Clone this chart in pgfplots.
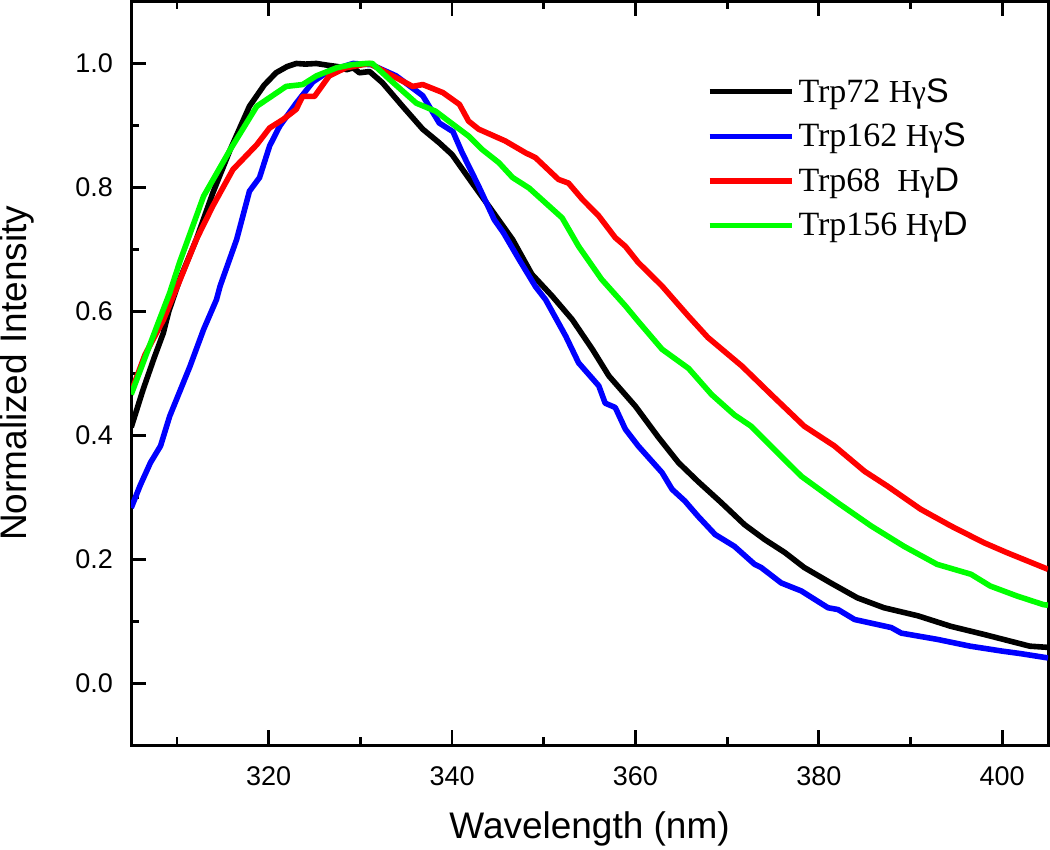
\documentclass[border=0pt]{standalone}
\usepackage{pgfplots}
\pgfplotsset{compat=1.18}
\usepackage{fontspec}
\setmainfont{Liberation Sans}
\newfontfamily\tnr{Liberation Serif}
\newfontfamily\arial{Liberation Sans}

\begin{document}
\begin{tikzpicture}
\begin{axis}[
  scale only axis, width=458.5pt, height=372pt,
  xmin=305, xmax=405, ymin=-0.1, ymax=1.1,
  xtick={320,340,...,400}, minor xtick={310,330,...,400},
  ytick={0,0.2,0.4,0.6,0.8,1.0}, minor ytick={0.1,0.3,0.5,0.7,0.9},
  tick align=inside, xtick pos=both, ytick pos=left,
  xticklabel pos=lower,
  major tick length=7.5pt, minor tick length=4pt,
  tick style={black, line width=1.4pt},
  axis line style={line width=1.5pt},
  /pgf/number format/assume math mode=true,
  yticklabel style={/pgf/number format/fixed, /pgf/number format/fixed zerofill, /pgf/number format/precision=1,
    inner sep=0pt, anchor=east, xshift=-9pt},
  xticklabel style={/pgf/number format/1000 sep={}, inner sep=0pt, anchor=north, yshift=-10.3pt},
  tick label style={font=\fontsize{13.5}{15}\selectfont},
  xlabel={Wavelength (nm)}, ylabel={Normalized Intensity},
  label style={font=\fontsize{18.5}{21}\selectfont, inner sep=0pt},
  xlabel style={at={(axis description cs:0.5,-0.112)}, anchor=center},
  ylabel style={at={(axis description cs:-0.1243,0.5)}, anchor=center},
  legend style={at={(axis description cs:0.621,0.908)}, anchor=north west, draw=none, fill=none,
    font=\tnr\fontsize{17}{20}\selectfont, row sep=5pt},
  legend cell align=left,
  legend image code/.code={\draw[#1] (0pt,0pt) -- (41pt,0pt);},
  every axis plot/.append style={line width=2.8pt, line join=round},
]
\addplot[black] coordinates {
(305,0.413)(306.3,0.474)(307.5,0.525)(308.5,0.565)(309.1,0.600)(310.3,0.652)
(312.1,0.716)(313.9,0.791)(315.8,0.861)(317.9,0.931)(319.5,0.965)(320.8,0.985)
(322,0.995)(323,1.0)(324,0.999)(325.2,1.0)(326.5,0.997)(327.5,0.995)(328.5,0.99)
(329.2,0.993)(329.9,0.985)(331,0.987)(332.4,0.969)(334.6,0.931)(336.8,0.894)
(338.6,0.872)(340,0.853)(342.2,0.807)(344,0.77)(346.6,0.716)(348.7,0.66)
(350.9,0.625)(353.1,0.587)(355.3,0.539)(357.1,0.496)(360,0.447)(362.5,0.397)
(364.7,0.356)(366.8,0.326)(369.4,0.291)(371.9,0.256)(374.1,0.232)(376.3,0.211)
(378.4,0.187)(381.3,0.162)(384.2,0.138)(387.1,0.122)(390.8,0.109)(394.4,0.092)
(398,0.079)(400.9,0.068)(403,0.06)(405,0.058)
};
\addlegendentry{Trp72 {\fontsize{16}{18}\selectfont Hγ}{\arial S}}
\addplot[blue] coordinates {
(305,0.283)(306,0.32)(307.1,0.356)(308.2,0.383)(309.2,0.431)(311.4,0.511)
(312.9,0.571)(314.3,0.619)(314.7,0.641)(316.5,0.716)(317.9,0.794)(319,0.816)
(320.1,0.867)(321.2,0.899)(323,0.936)(324.8,0.97)(326.6,0.988)(329.2,1.0)
(331.2,0.998)(333.9,0.98)(336.8,0.948)(338.6,0.904)(340.1,0.89)(341.1,0.856)
(342.9,0.802)(344.6,0.748)(345.6,0.727)(347.3,0.684)(349.1,0.64)(350.2,0.619)
(352.4,0.56)(353.8,0.517)(356,0.48)(356.7,0.452)(357.8,0.445)(358.9,0.41)
(360.3,0.383)(362.9,0.34)(364,0.313)(365.4,0.294)(366.8,0.27)(368.7,0.24)
(370.8,0.221)(373,0.192)(373.7,0.187)(375.9,0.162)(378.1,0.149)(381,0.122)
(382.1,0.119)(383.9,0.103)(387.9,0.09)(389,0.081)(392.9,0.071)(396.5,0.06)
(400,0.052)(402,0.048)(405,0.041)
};
\addlegendentry{Trp162 {\fontsize{16}{18}\selectfont Hγ}{\arial S}}
\addplot[red] coordinates {
(305,0.47)(306.5,0.53)(308.5,0.586)(310.3,0.65)(312.1,0.716)(313.9,0.77)
(316.1,0.829)(318.7,0.869)(320.1,0.896)(321.6,0.910)(323,0.926)(323.7,0.947)
(325,0.947)(326.6,0.98)(328.4,0.993)(331,1.0)(333.9,0.977)(335.7,0.963)
(336.8,0.966)(339,0.953)(340.8,0.934)(341.8,0.907)(342.9,0.894)(345.8,0.875)
(348,0.856)(349.1,0.848)(351.6,0.813)(352.7,0.807)(354.2,0.781)(356,0.754)
(357.8,0.719)(358.9,0.705)(360.3,0.679)(362.9,0.641)(365.8,0.592)(367.9,0.558)
(371.6,0.512)(374.8,0.466)(378.4,0.415)(381.7,0.383)(385,0.342)(387.5,0.318)
(391.1,0.281)(394.4,0.254)(398,0.227)(400.5,0.211)(405,0.184)
};
\addlegendentry{Trp68\ \ {\fontsize{16}{18}\selectfont Hγ}{\arial D}}
\addplot[green] coordinates {
(305,0.466)(306.7,0.533)(307.8,0.576)(309.2,0.63)(310.3,0.68)(312.9,0.786)
(315.8,0.861)(318.7,0.931)(321.9,0.963)(323.7,0.966)(325.2,0.98)(327.4,0.993)
(329,0.998)(330.6,1.0)(331.3,1.0)(333.2,0.974)(336.1,0.936)(338.2,0.923)
(340.8,0.894)(341.8,0.883)(343.3,0.861)(345.1,0.84)(346.6,0.816)(348.4,0.799)
(350.2,0.775)(352,0.751)(353.8,0.705)(356.3,0.652)(358.9,0.609)(360.3,0.584)
(362.9,0.539)(365.8,0.508)(368.3,0.466)(370.8,0.433)(372.6,0.415)(375.5,0.372)
(378.1,0.334)(382.1,0.291)(385.7,0.254)(389.3,0.221)(392.9,0.192)(396.6,0.176)
(398.7,0.157)(401.6,0.141)(404.5,0.127)(405,0.126)
};
\addlegendentry{Trp156 {\fontsize{16}{18}\selectfont Hγ}{\arial D}}
\end{axis}
\path ([xshift=-65.5pt,yshift=-52pt]current axis.south west);
\path ([xshift=1pt,yshift=0.5pt]current axis.north east);
\end{tikzpicture}
\end{document}
